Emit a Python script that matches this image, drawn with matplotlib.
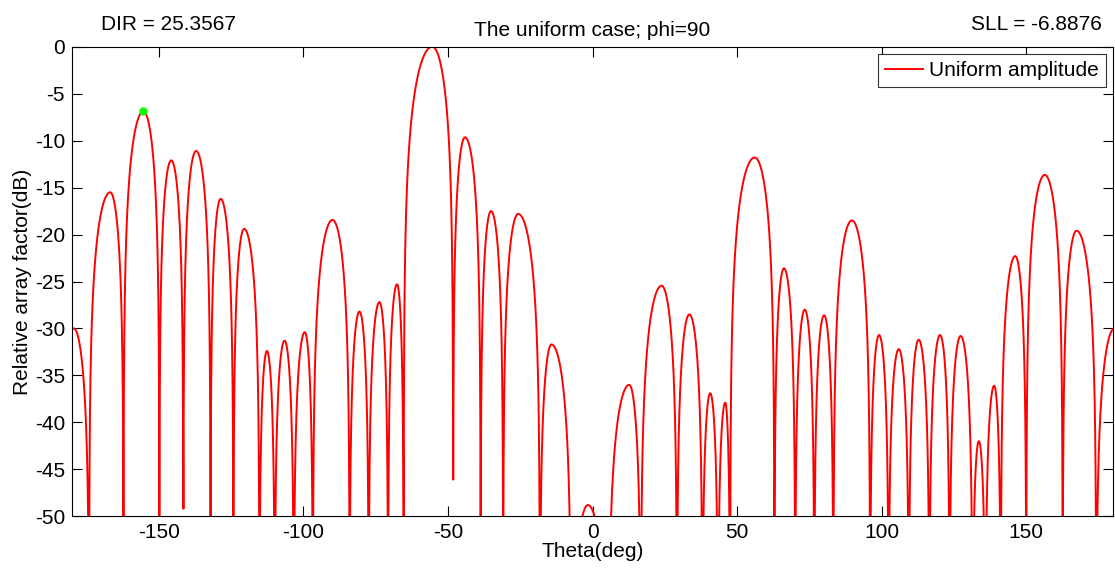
import numpy as np
import matplotlib
matplotlib.use("Agg")
import matplotlib.pyplot as plt

# nulls of the pattern (deg); first and last sit just outside the +/-180 window
null_deg = [-185.0, -174.1, -162.2, -149.8, -141.5, -132.1, -124.2, -115.2,
            -109.9, -103.3, -96.7, -84.0, -77.4, -70.7, -65.3, -48.2, -38.7,
            -30.9, -18.2, -7.4, 5.5, 16.7, 29.2, 38.0, 43.4, 47.6, 62.9, 70.1,
            76.7, 83.3, 96.0, 102.4, 109.4, 116.5, 123.5, 131.4, 135.9, 141.2,
            150.0, 162.6, 174.2, 186.0]

# the two nulls that do not drop below the -50 dB floor
shallow_null_deg = [-141.5, -48.2]
shallow_null_db = [-49.2, -46.1]

# lobe maxima between consecutive nulls
peak_deg = [-179.4, -166.8, -155.3, -145.7, -137.1, -128.6, -120.5, -112.6,
            -106.5, -99.5, -89.9, -80.6, -73.7, -67.6, -55.4, -44.1, -35.1,
            -25.7, -14.2, -1.6, 12.7, 23.9, 33.5, 40.7, 45.9, 56.1, 66.2, 73.4,
            80.1, 89.7, 99.1, 105.9, 112.8, 120.2, 127.3, 133.6, 138.9, 146.2,
            156.4, 167.4, 180.5]
peak_db = [-30.0, -15.5, -6.8876, -12.1, -11.1, -16.2, -19.4, -32.4, -31.3,
           -30.4, -18.45, -28.2, -27.2, -25.3, 0.0, -9.65, -17.5, -17.8, -31.7,
           -48.8, -36.0, -25.45, -28.5, -36.9, -37.9, -11.8, -23.6, -28.0,
           -28.6, -18.5, -30.7, -32.2, -31.2, -30.7, -30.8, -42.0, -36.1,
           -22.3, -13.65, -19.6, -30.0]

dir_value = 25.3567
sll_value = -6.8876
sll_deg = -155.3


def null_floor(n):
    if n in shallow_null_deg:
        return shallow_null_db[shallow_null_deg.index(n)]
    return -150.0


def pattern():
    # each lobe is a sine arch in linear amplitude, split at its peak
    th_parts, db_parts = [], []
    for i in range(len(peak_deg)):
        n1, n2 = null_deg[i], null_deg[i + 1]
        p, lvl = peak_deg[i], peak_db[i]
        left = np.linspace(n1, p, 150, endpoint=False)
        right = np.linspace(p, n2, 150, endpoint=False)
        ph_l = 0.5 * np.pi * (left - n1) / (p - n1)
        ph_r = 0.5 * np.pi + 0.5 * np.pi * (right - p) / (n2 - p)
        db_l = lvl + 20 * np.log10(np.maximum(np.sin(ph_l), 1e-7))
        db_r = lvl + 20 * np.log10(np.maximum(np.sin(ph_r), 1e-7))
        th_parts += [left, right]
        db_parts += [np.maximum(db_l, null_floor(n1)),
                     np.maximum(db_r, null_floor(n2))]
    return np.concatenate(th_parts), np.concatenate(db_parts)


def main():
    plt.rcParams["font.family"] = ["Liberation Sans", "DejaVu Sans"]
    plt.rcParams["axes.unicode_minus"] = False
    fs = 15

    theta, af_db = pattern()

    fig = plt.figure(figsize=(11.15, 5.68), dpi=100)
    ax = fig.add_axes([0.0646, 0.091, 0.9336, 0.8268])

    ax.plot(theta, af_db, color="red", lw=1.4, label="Uniform amplitude")
    ax.plot([sll_deg], [sll_value], "o", color="#00ff00", ms=5, mec="#00ff00")

    ax.set_xlim(-180, 180)
    ax.set_ylim(-50, 0)
    ax.set_xticks(np.arange(-150, 151, 50))
    ax.set_yticks(np.arange(-50, 1, 5))
    ax.tick_params(direction="in", top=True, right=True, length=7, width=0.8,
                   labelsize=fs, pad=5)
    for s in ax.spines.values():
        s.set_linewidth(0.8)
        s.set_color("black")

    ax.set_xlabel("Theta(deg)", fontsize=fs, labelpad=0)
    ax.set_ylabel("Relative array factor(dB)", fontsize=fs, labelpad=2)
    ax.set_title("The uniform case; phi=90", fontsize=fs, pad=8)

    fig.text(101 / 1115, 1 - 24 / 568, f"DIR = {dir_value}", fontsize=fs,
             ha="left", va="center")
    fig.text(1102 / 1115, 1 - 24 / 568, f"SLL = {sll_value}", fontsize=fs,
             ha="right", va="center")

    leg = ax.legend(loc="upper right", fontsize=fs, fancybox=False,
                    framealpha=1, edgecolor="0.2", borderaxespad=0.35,
                    handlelength=1.8, borderpad=0.33, handletextpad=0.3)
    leg.get_frame().set_linewidth(0.8)

    plt.savefig("out.png", dpi=100)
    plt.close()


if __name__ == "__main__":
    main()
